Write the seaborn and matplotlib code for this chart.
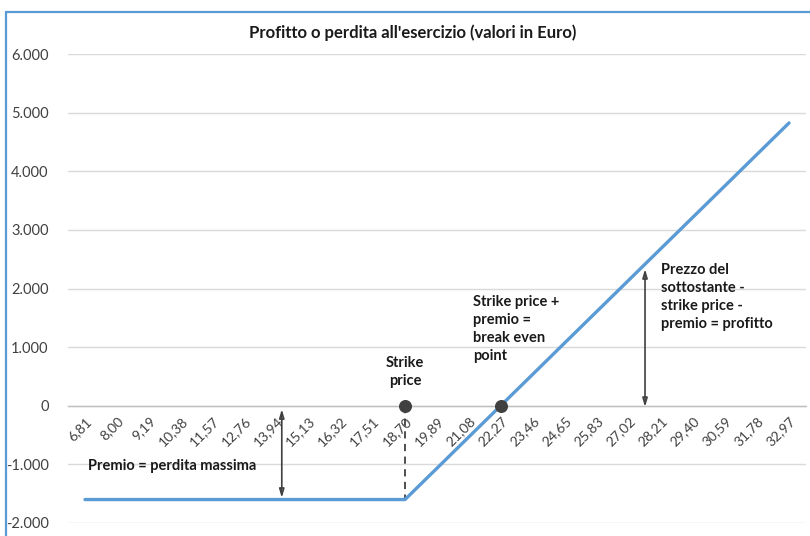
import matplotlib
matplotlib.use("Agg")
import matplotlib.pyplot as plt
from matplotlib.lines import Line2D
from matplotlib.ticker import FuncFormatter
import seaborn as sns
import pandas as pd

# ---- data ----
prices = ["6,81", "8,00", "9,19", "10,38", "11,57", "12,76", "13,94", "15,13",
          "16,32", "17,51", "18,70", "19,89", "21,08", "22,27", "23,46", "24,65",
          "25,83", "27,02", "28,21", "29,40", "30,59", "31,78", "32,97"]
profit = [-1600, -1600, -1600, -1600, -1600, -1600, -1600, -1600,
          -1600, -1600, -1600, -1065, -529, 6, 541, 1077,
          1612, 2147, 2683, 3218, 3753, 4289, 4824]
y_ticks = [-2000, -1000, 0, 1000, 2000, 3000, 4000, 5000, 6000]
title = "Profitto o perdita all'esercizio (valori in Euro)"
strike_idx = 10
breakeven_idx = 13

sns.set_style("white")
plt.rcParams["font.family"] = ["Lato", "DejaVu Sans"]

df = pd.DataFrame({"idx": list(range(len(prices))), "profit": profit})

fig = plt.figure(figsize=(8.10, 5.36), dpi=100)
ax = fig.add_axes([68 / 810, 1 - 523 / 536, (806 - 68) / 810, (523 - 54) / 536])

sns.lineplot(data=df, x="idx", y="profit", ax=ax, color="#5B9BD5", linewidth=2.4, zorder=3)

for s in ["top", "right", "left"]:
    ax.spines[s].set_visible(False)
ax.spines["bottom"].set_position(("data", 0))
ax.spines["bottom"].set_color("#BFBFBF")
ax.spines["bottom"].set_linewidth(1.0)

ax.set_xlim(-0.53, len(prices) - 1 + 0.53)
ax.set_ylim(-2000, 6000)
ax.set_yticks(y_ticks)
ax.yaxis.set_major_formatter(FuncFormatter(lambda v, p: f"{int(v):,}".replace(",", ".")))
ax.set_xticks(range(len(prices)))
ax.set_xticklabels(prices)
ax.set_xlabel("")
ax.set_ylabel("")

ax.grid(axis="y", color="#D9D9D9", linewidth=1.0, zorder=0)
ax.grid(axis="x", visible=False)
ax.tick_params(axis="x", direction="inout", length=7, color="#BFBFBF", pad=3,
               labelsize=10, labelcolor="#404040")
ax.tick_params(axis="y", length=0, pad=14, labelsize=10.5, labelcolor="#404040")
plt.setp(ax.get_xticklabels(), rotation=45, ha="right", va="top", rotation_mode="anchor")

dark = "#404040"
# dashed strike line and dots
ax.plot([strike_idx, strike_idx], [0, profit[strike_idx]], color=dark, linestyle=(0, (4, 3)),
        linewidth=1.3, zorder=2)
ax.scatter([strike_idx, breakeven_idx], [0, 0], s=70, color=dark, zorder=5)

# double arrows
ax.annotate("", xy=(6.15, -1570), xytext=(6.15, -60),
            arrowprops=dict(arrowstyle="<|-|>,head_length=0.5,head_width=0.15", color=dark,
                            lw=1.2, shrinkA=0, shrinkB=0, fill=False))
ax.annotate("", xy=(17.5, 2330), xytext=(17.5, -20),
            arrowprops=dict(arrowstyle="<|-|>,head_length=0.5,head_width=0.15", color=dark,
                            lw=1.2, shrinkA=0, shrinkB=0, fill=False))

tkw = dict(fontsize=10.5, fontweight="bold", color="#1a1a1a", linespacing=1.35)
ax.text(0.1, -1030, "Premio = perdita massima", ha="left", va="center", **tkw)
ax.text(10.0, 575, "Strike\nprice", ha="center", va="center", **tkw)
ax.text(12.13, 1305, "Strike price +\npremio =\nbreak even\npoint", ha="left", va="center", **tkw)
ax.text(18.0, 1853, "Prezzo del\nsottostante -\nstrike price -\npremio = profitto",
        ha="left", va="center", **tkw)

fig.text(413 / 810, 1 - 33 / 536, title, ha="center", va="center", fontsize=12,
         fontweight="bold", color="#1a1a1a")

# chart border (blue)
fig.add_artist(Line2D([6 / 810, 1.0], [1 - 12 / 536, 1 - 12 / 536], transform=fig.transFigure,
                      color="#5B9BD5", linewidth=1.6))
fig.add_artist(Line2D([6 / 810, 6 / 810], [0, 1 - 12 / 536], transform=fig.transFigure,
                      color="#5B9BD5", linewidth=1.6))

fig.savefig("out.png", dpi=100)
